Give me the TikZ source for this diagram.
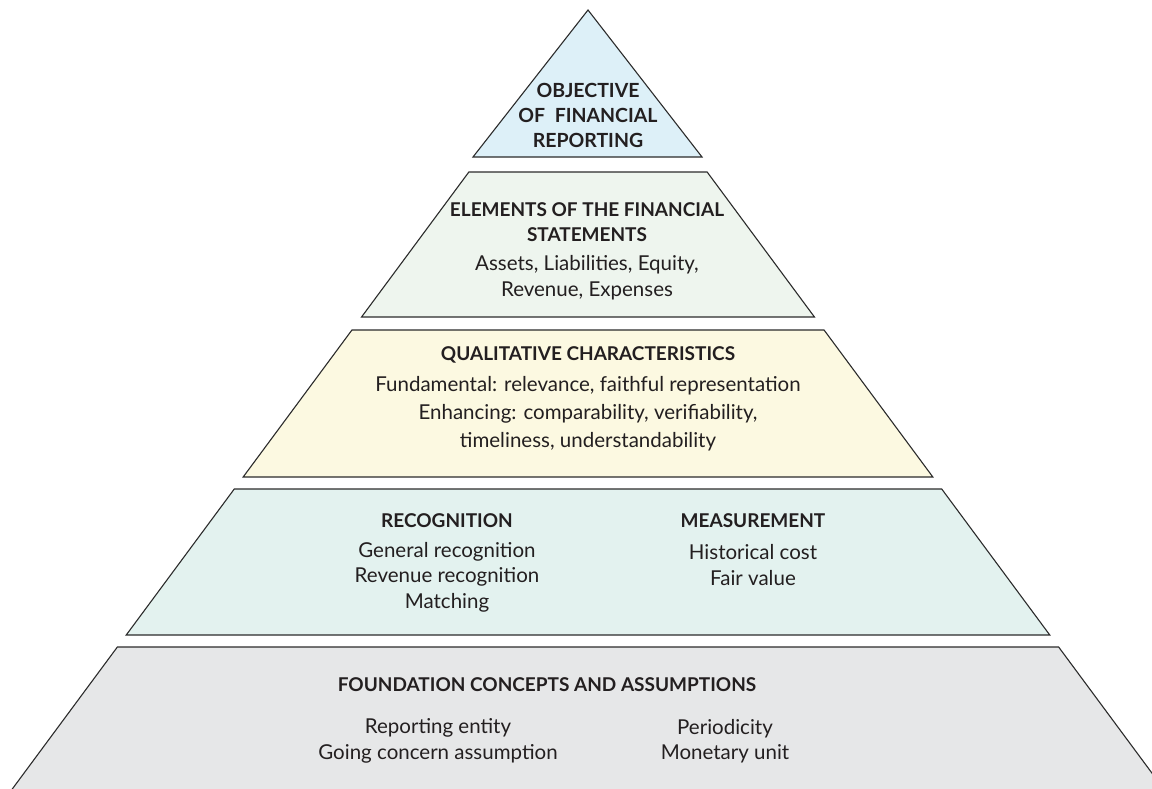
\documentclass[tikz,border=0pt]{standalone}
\usepackage{fontspec}
\setmainfont{Lato}
\usetikzlibrary{positioning}
\definecolor{lineGray}{HTML}{2B2B2B}
\definecolor{textGray}{HTML}{231F20}
\definecolor{topBlue}{HTML}{DDF0F8}
\definecolor{elemGreen}{HTML}{EEF5EE}
\definecolor{qualYellow}{HTML}{FCF9E1}
\definecolor{recTeal}{HTML}{E3F2EF}
\definecolor{baseGray}{HTML}{E6E7E8}
\tikzset{
    %Outline of every layer
    layer/.style={draw=lineGray, line width=1.1pt, line join=miter},
    head/.style={font=\fontsize{19}{25}\selectfont\bfseries, text=textGray, align=center, inner sep=0pt},
    body/.style={font=\fontsize{20.5}{25}\selectfont, text=textGray, align=center, inner sep=0pt}
}
% one band of the pyramid: top y, bottom y, fill
\def\layer#1#2#3{
    \pgfmathsetmacro\xa{588-0.74*(#1-11)}
    \pgfmathsetmacro\xb{588+0.74*(#1-11)}
    \pgfmathsetmacro\xc{588-0.74*(#2-11)}
    \pgfmathsetmacro\xd{588+0.74*(#2-11)}
    \filldraw[layer, fill=#3] (\xa,#1) -- (\xb,#1) -- (\xd,#2) -- (\xc,#2) -- cycle;
}

\begin{document}
\begin{tikzpicture}[x=1pt, y=-1pt]
    \clip (0,0) rectangle (1152,788);

    \filldraw[layer, fill=topBlue] (588,10) -- (702,157) -- (473,157) -- cycle;
    \layer{172}{317}{elemGreen}
    \layer{330}{477}{qualYellow}
    \layer{489}{635}{recTeal}
    \layer{647}{800}{baseGray}

    \node[head, font=\fontsize{19.5}{25}\selectfont\bfseries] (objective) at (588,115) {OBJECTIVE\\OF~~FINANCIAL\\REPORTING};

    \node[head] (elements) at (587,222.5) {ELEMENTS OF THE FINANCIAL\\STATEMENTS};
    \node[body, font=\fontsize{20.5}{26}\selectfont] (elemlist) at (587,278) {Assets, Liabilities, Equity,\\Revenue, Expenses};

    \node[head] (qualitative) at (588,355) {QUALITATIVE CHARACTERISTICS};
    \node[body, font=\fontsize{20.5}{28}\selectfont] (quallist) at (588,414) {Fundamental: relevance, faithful representation\\Enhancing: comparability, verifiability,\\timeliness, understandability};

    \node[head] (recognition) at (447,521) {RECOGNITION};
    \node[body, font=\fontsize{20.5}{25.5}\selectfont] (reclist) at (447,577) {General recognition\\Revenue recognition\\Matching};
    \node[head] (measurement) at (753,521) {MEASUREMENT};
    \node[body, font=\fontsize{20.5}{26}\selectfont] (measlist) at (753,565) {Historical cost\\Fair value};

    \node[head] (foundation) at (547,685) {FOUNDATION CONCEPTS AND ASSUMPTIONS};
    \node[body, font=\fontsize{20.5}{25.5}\selectfont] (entity) at (438,741) {Reporting entity\\Going concern assumption};
    \node[body, font=\fontsize{20.5}{25.5}\selectfont] (period) at (725,741) {Periodicity\\Monetary unit};
\end{tikzpicture}
\end{document}
